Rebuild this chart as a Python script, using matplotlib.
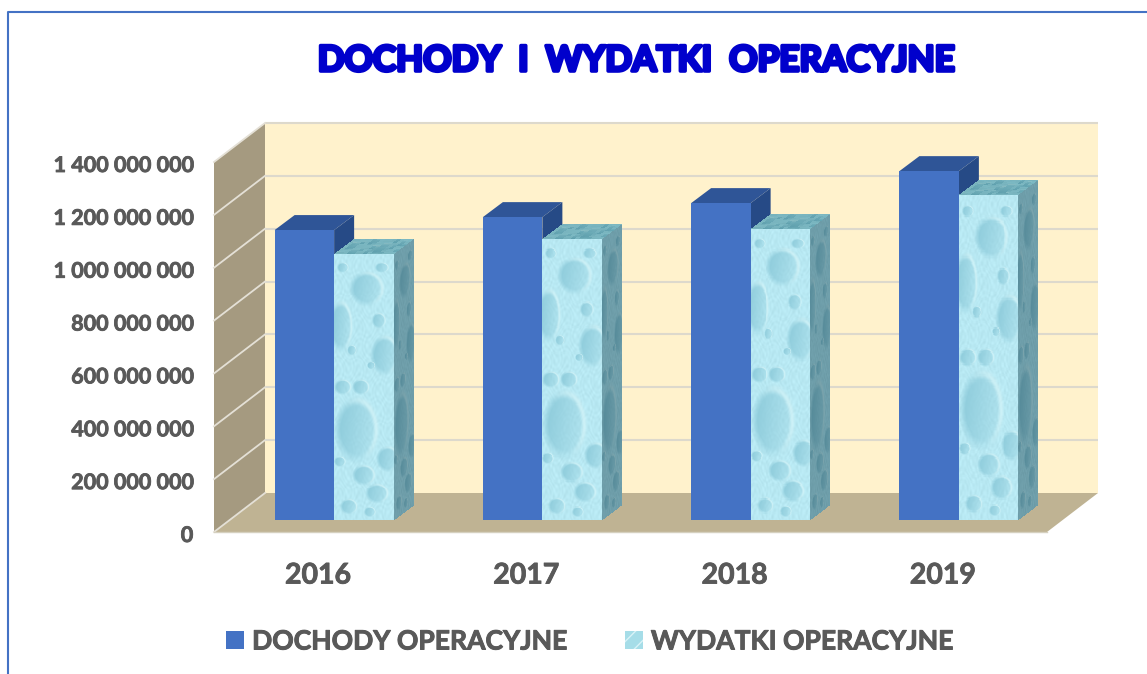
import numpy as np
import matplotlib
matplotlib.use("Agg")
import matplotlib.pyplot as plt
from matplotlib.patches import Patch, Polygon
from matplotlib.lines import Line2D
from matplotlib.transforms import ScaledTranslation
from matplotlib import patheffects as pe

years = ["2016", "2017", "2018", "2019"]
dochody = [1.097e9, 1.146e9, 1.199e9, 1.320e9]
wydatki = [1.006e9, 1.063e9, 1.101e9, 1.230e9]
ticks = [0, 200e6, 400e6, 600e6, 800e6, 1000e6, 1200e6, 1400e6]
tick_labels = ["0", "200 000 000", "400 000 000", "600 000 000", "800 000 000",
               "1 000 000 000", "1 200 000 000", "1 400 000 000"]
series_names = ["DOCHODY OPERACYJNE", "WYDATKI OPERACYJNE"]
title = "DOCHODY  I  WYDATKI  OPERACYJNE"

# water-drop texture: (x, y, rx, ry) as fractions of a bar face
drops = [(.38, .66, .38, .13), (.55, .13, .30, .07), (.12, .27, .20, .10),
         (.85, .38, .25, .08), (.45, .50, .15, .03), (.50, .83, .20, .04),
         (.72, .90, .20, .04), (.90, .77, .20, .05), (.75, .25, .12, .03),
         (.15, .50, .15, .03), (.25, .95, .15, .03), (.15, .05, .10, .02),
         (.80, .05, .12, .02), (.30, .36, .08, .02), (.62, .42, .07, .015),
         (.10, .78, .10, .02), (.60, .97, .10, .02)]

W, H = 1147, 674
PX_X = (1047 - 214) / 4      # pixels per category
PX_Y = 370 / 1.4e9           # pixels per unit
BLUE, BLUE_TOP, BLUE_SIDE = "#4472C4", "#2F5597", "#264A86"
GRID, WALL_BACK, WALL_LEFT, FLOOR, TXT = "#DDD9CC", "#FFF2CC", "#A59A80", "#BFB393", "#595959"

plt.rcParams["font.family"] = ["Lato", "DejaVu Sans"]
plt.rcParams["hatch.linewidth"] = 1.0
fig = plt.figure(figsize=(W / 100, H / 100), dpi=100)
ax = fig.add_axes([214 / W, 1 - 532 / H, (1047 - 214) / W, 370 / H])
ax.set_xlim(-0.5, 3.5)
ax.set_ylim(0, 1.4e9)
for s in ax.spines.values():
    s.set_visible(False)

wx, wy = 51 / PX_X, 39 / PX_Y          # depth of the chart box
ox, oy = 16 / PX_X, 12 / PX_Y          # where the bars stand on the floor
dx, dy = 20 / PX_X, 15 / PX_Y          # depth of a bar
bw = 59.5 / PX_X
x0, x1, ymax = -0.5, 3.5, ticks[-1]

ax.add_patch(Polygon([(x0 + wx, wy), (x1 + wx, wy), (x1 + wx, ymax + wy), (x0 + wx, ymax + wy)],
                     fc=WALL_BACK, ec="none", clip_on=False, zorder=1))
ax.add_patch(Polygon([(x0, 0), (x0 + wx, wy), (x0 + wx, ymax + wy), (x0, ymax)],
                     fc=WALL_LEFT, ec="none", clip_on=False, zorder=1))
ax.add_patch(Polygon([(x0, 0), (x1, 0), (x1 + wx, wy), (x0 + wx, wy)],
                     fc=FLOOR, ec="none", clip_on=False, zorder=1))
for t in ticks[1:]:
    ax.plot([x0 + wx, x1 + wx], [t + wy, t + wy], color=GRID, lw=1.5, clip_on=False, zorder=2,
            solid_capstyle="butt")
for t in ticks:
    ax.plot([x0, x0 + wx], [t, t + wy], color="#E4E0D6", lw=1.3, clip_on=False, zorder=2)
ax.plot([x0, x1], [0, 0], color="#D5D0BF", lw=1.0, clip_on=False, zorder=2)


def texture(s, t):
    img = np.ones(s.shape + (3,)) * np.array([0.72, 0.91, 0.95])
    m = (0.016 * np.sin(37 * s + 7 * np.sin(40 * t)) * np.sin(90 * t + 5 * np.sin(19 * s))
         + 0.012 * np.sin(71 * s) * np.sin(170 * t))
    img = img + m[..., None]
    dark = np.array([0.56, 0.80, 0.86])
    for (cx, cy, rx, ry) in drops:
        u, v = (s - cx) / rx, (t - cy) / ry
        d = np.sqrt(u ** 2 + v ** 2)
        w = np.clip((1 - d) / 0.3, 0, 1) * np.clip(0.62 - 0.45 * u - 0.1 * v, 0.05, 1)
        img = img * (1 - w[..., None]) + dark * w[..., None]
        rim = np.exp(-((d - 0.85) / 0.10) ** 2) * np.clip(0.2 + u - 0.5 * v, 0, 1) * 0.6
        img = img * (1 - rim[..., None]) + rim[..., None] * np.array([0.86, 0.97, 0.98])
    return np.clip(img, 0, 1)


def face(p, u, v, tint, ns, nt, zorder):
    s = np.linspace(0, 1, ns + 1)
    t = np.linspace(0, 1, nt + 1)
    S, T = np.meshgrid(s, t)
    X = p[0] + u[0] * S + v[0] * T
    Y = p[1] + u[1] * S + v[1] * T
    Sc, Tc = np.meshgrid((s[:-1] + s[1:]) / 2, (t[:-1] + t[1:]) / 2)
    C = texture(Sc, Tc) * np.array(tint)
    return ax.pcolormesh(X, Y, C, shading="flat", antialiased=False, zorder=zorder, clip_on=False,
                         linewidth=0, edgecolors="none")


pos = np.arange(len(years)) + ox
for i in range(len(years)):
    z = 3 + i * 0.01
    h = dochody[i]
    ax.bar(pos[i] - bw / 2, h, bw, bottom=oy, color=BLUE, zorder=z + .003, clip_on=False, lw=0)
    r = pos[i]
    ax.add_patch(Polygon([(r, oy), (r + dx, oy + dy), (r + dx, oy + dy + h), (r, oy + h)],
                         fc=BLUE_SIDE, ec="none", clip_on=False, zorder=z + .001))
    ax.add_patch(Polygon([(r - bw, oy + h), (r, oy + h), (r + dx, oy + h + dy), (r - bw + dx, oy + h + dy)],
                         fc=BLUE_TOP, ec="none", clip_on=False, zorder=z + .002))

    h = wydatki[i]
    ax.bar(pos[i] + bw / 2, h, bw, bottom=oy, color="#B5E6EF", zorder=z + .004, clip_on=False, lw=0)
    l, r = pos[i], pos[i] + bw
    face((l, oy + h), (bw, 0), (0, -h), (1, 1, 1), 60, 270, z + .007)
    face((r, oy + h), (dx, dy), (0, -h), (0.60, 0.68, 0.70), 20, 270, z + .005)
    face((l, oy + h), (dx, dy), (bw, 0), (0.66, 0.78, 0.79), 60, 15, z + .006)

thick = [pe.withStroke(linewidth=0.6, foreground=TXT)]
ax.set_xticks(np.arange(len(years)), years, fontsize=20.5, fontweight="bold", color=TXT)
ax.set_yticks(ticks, tick_labels, fontsize=15.5, fontweight="bold", color=TXT)
ax.tick_params(axis="x", length=0, pad=22)
ax.tick_params(axis="y", length=0, pad=15)
for lab in ax.get_yticklabels():
    lab.set_path_effects(thick)
    lab.set_transform(lab.get_transform() + ScaledTranslation(0, -1.5 / 100, fig.dpi_scale_trans))
for lab in ax.get_xticklabels():
    lab.set_path_effects(thick)
    lab.set_transform(lab.get_transform() + ScaledTranslation(0, 0, fig.dpi_scale_trans))

fig.text(636.5 / W, 1 - 61 / H, title, ha="center", va="center", fontsize=25.3, fontweight="bold",
         color="#0000CC", path_effects=[pe.withStroke(linewidth=2.6, foreground="#0000CC")])

fig.add_artist(Line2D([8 / W, 8 / W, 1], [0, 1 - 12 / H, 1 - 12 / H], color="#4472C4", lw=1.5))

handles = [Patch(fc=BLUE, ec="none", label=series_names[0]),
           Patch(fc="#A6DDE8", ec="#D8F3F7", hatch="//", lw=0, label=series_names[1])]
leg = fig.legend(handles=handles, loc="center", bbox_to_anchor=(589.5 / W, 1 - 641.5 / H), ncols=2,
                 frameon=False, handlelength=0.68, handleheight=0.68, handletextpad=0.3,
                 columnspacing=2.2, prop={"weight": "bold", "size": 19.1})
for t in leg.get_texts():
    t.set_color(TXT)
    t.set_path_effects([pe.withStroke(linewidth=0.7, foreground=TXT)])

fig.savefig("out.png", dpi=100, facecolor="white")
